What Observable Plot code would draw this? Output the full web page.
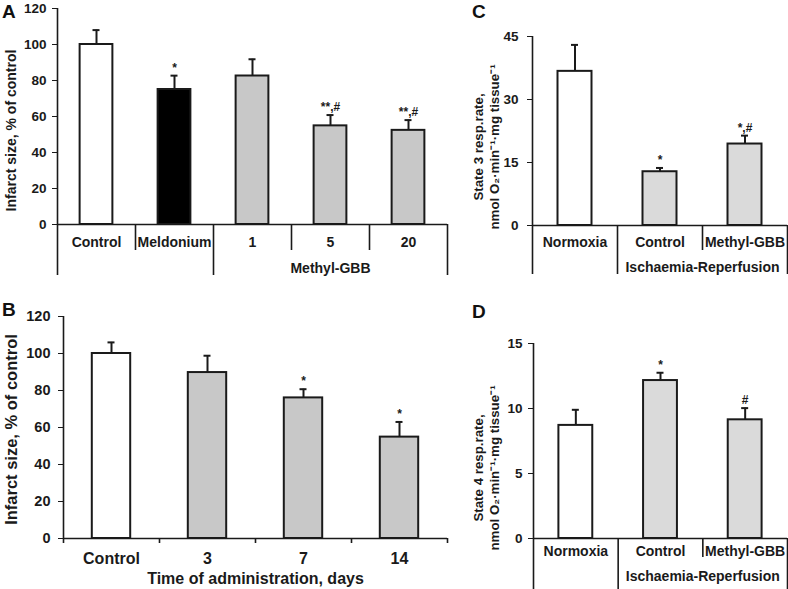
<!DOCTYPE html>
<html><head><meta charset="utf-8">
<script src="https://cdn.jsdelivr.net/npm/d3@7"></script>
<script src="https://cdn.jsdelivr.net/npm/@observablehq/plot@0.6"></script>
<style>
body{margin:0;background:#fff;}
#fig{position:relative;width:788px;height:589px;overflow:hidden;background:#fff;}
.letter{position:absolute;font:bold 19px "Liberation Sans",Arial,sans-serif;line-height:1;color:#111;}
</style></head><body><div id="fig"></div>
<script>
// ---------- Panel A ----------
const aCategories = ["Control", "Meldonium", "1", "5", "20"];
const aKinds = ["control", "meldonium", "treatment", "treatment", "treatment"];
const aValues = [100, 75, 82.5, 54.8, 52.3];
const aErrors = [8, 7.7, 9.3, 6, 5.7];
const aSig = ["", "*", "", "**,#", "**,#"];
const aGroups = [{label: "Methyl-GBB", from: 2, to: 5}];
const aYTicks = [0, 20, 40, 60, 80, 100, 120];
const aYLabel = "Infarct size, % of control";

// ---------- Panel B ----------
const bCategories = ["Control", "3", "7", "14"];
const bKinds = ["control", "treatment", "treatment", "treatment"];
const bValues = [100, 89.7, 76, 54.8];
const bErrors = [6, 9.1, 4.7, 8.2];
const bSig = ["", "", "*", "*"];
const bYTicks = [0, 20, 40, 60, 80, 100, 120];
const bYLabel = "Infarct size, % of control";
const bXLabel = "Time of administration, days";

// ---------- Panel C ----------
const cCategories = ["Normoxia", "Control", "Methyl-GBB"];
const cKinds = ["control", "treatment2", "treatment2"];
const cValues = [36.7, 12.8, 19.4];
const cErrors = [6.3, 0.9, 2.0];
const cSig = ["", "*", "*,#"];
const cGroups = [{label: "Ischaemia-Reperfusion", from: 1, to: 3}];
const cYTicks = [0, 15, 30, 45];
const cYLabel = "State 3 resp.rate,\nnmol O\u2082\u00b7min\u207b\u00b9\u00b7mg tissue\u207b\u00b9";

// ---------- Panel D ----------
const dCategories = ["Normoxia", "Control", "Methyl-GBB"];
const dKinds = ["control", "treatment2", "treatment2"];
const dValues = [8.7, 12.15, 9.13];
const dErrors = [1.2, 0.6, 0.9];
const dSig = ["", "*", "#"];
const dGroups = [{label: "Ischaemia-Reperfusion", from: 1, to: 3}];
const dYTicks = [0, 5, 10, 15];
const dYLabel = "State 4 resp.rate,\nnmol O\u2082\u00b7min\u207b\u00b9\u00b7mg tissue\u207b\u00b9";

// ---------- drawing ----------
const FONT = '"Liberation Sans", Arial, Helvetica, sans-serif';
const INK = "#1a1a1a";
const fillScale = {
  domain: ["control", "meldonium", "treatment", "treatment2"],
  range: ["#ffffff", "#000000", "#c8c8c8", "#dadada"]
};

function panel(o) {
  const n = o.categories.length;
  const rows = o.categories.map((c, i) => ({
    c, i, mid: i + 0.5, v: o.values[i], top: o.values[i] + o.errors[i],
    s: o.sig[i], k: o.kinds[i]
  }));
  const bounds = d3.range(n + 1);
  const groups = o.groups || [];
  const isLong = (b) => b === 0 || b === n || groups.some(g => g.from === b || g.to === b);
  const marks = [
    Plot.rectY(rows, {x1: d => d.mid - o.half, x2: d => d.mid + o.half, y1: 0, y2: "v",
      fill: "k", stroke: INK, strokeWidth: 2}),
    Plot.ruleX(rows, {x: "mid", y1: "v", y2: "top", stroke: INK, strokeWidth: 2}),
    Plot.ruleY(rows, {y: "top", x1: "mid", x2: "mid", insetLeft: -3.5, insetRight: -3.5, stroke: INK, strokeWidth: 2}),
    Plot.text(rows, {x: "mid", y: "top", text: "s", dy: o.sigDy, lineAnchor: "bottom",
      fontSize: 12, fontWeight: "bold", fill: INK}),
    Plot.ruleY([0], {stroke: INK, strokeWidth: 1.6}),
    Plot.ruleX([0], {stroke: INK, strokeWidth: 1.6}),
    Plot.text(rows, {x: "mid", y: 0, text: "c", dy: o.labelDy, fontSize: o.labelSize, fontWeight: "bold", fill: INK}),
    Plot.text([o.yLabel], {frameAnchor: "left", textAnchor: "middle", lineAnchor: "middle",
      rotate: -90, dx: o.yLabelDx, dy: o.yLabelDy,
      fontSize: o.yLabelSize, fontWeight: "bold", lineHeight: 1.15, fill: INK})
  ];
  if (o.separators) {
    marks.push(Plot.ruleX(bounds.filter(b => !isLong(b)), {x: d => d, y1: 0, y2: 0, insetBottom: -o.shortLen, stroke: INK, strokeWidth: 1.6}));
    marks.push(Plot.ruleX(bounds.filter(isLong), {x: d => d, y1: 0, y2: 0, insetBottom: -o.longLen, stroke: INK, strokeWidth: 1.6}));
    marks.push(Plot.text(groups, {x: d => (d.from + d.to) / 2, y: 0, text: "label", dy: o.groupDy,
      fontSize: o.labelSize, fontWeight: "bold", fill: INK}));
  } else {
    marks.push(Plot.ruleX(bounds, {x: d => d, y1: 0, y2: 0, insetBottom: -5, stroke: INK, strokeWidth: 1.6}));
    marks.push(Plot.text([o.xLabel], {x: n / 2, y: 0, dy: o.groupDy, fontSize: o.labelSize, fontWeight: "bold", fill: INK}));
  }
  const svg = Plot.plot({
    width: o.width, height: o.height,
    marginTop: o.mt, marginLeft: o.ml, marginRight: o.mr, marginBottom: o.mb,
    x: {domain: [0, n], axis: null},
    y: {domain: [0, o.yTicks[o.yTicks.length - 1]], ticks: o.yTicks, tickSize: 5,
        tickPadding: o.tickPadding, label: null, tickFormat: d => String(d)},
    color: fillScale,
    style: {fontFamily: FONT, fontSize: o.tickSize + "px", fontWeight: "bold", color: INK,
            background: "transparent", overflow: "visible"},
    marks
  });
  svg.style.position = "absolute";
  svg.style.left = o.left + "px";
  svg.style.top = o.top + "px";
  return svg;
}

const fig = document.getElementById("fig");
fig.appendChild(panel({
  categories: aCategories, kinds: aKinds, values: aValues, errors: aErrors, sig: aSig,
  groups: aGroups, yTicks: aYTicks, yLabel: aYLabel, separators: true,
  left: 0, top: 0, width: 460, height: 285, mt: 8, ml: 57, mr: 13, mb: 61,
  half: 0.21, tickSize: 13.5, tickPadding: 6, labelSize: 14, labelDy: 18, groupDy: 44,
  shortLen: 26, longLen: 51, yLabelSize: 14, yLabelDx: -47, yLabelDy: 14, sigDy: -4
}));
fig.appendChild(panel({
  categories: bCategories, kinds: bKinds, values: bValues, errors: bErrors, sig: bSig,
  yTicks: bYTicks, yLabel: bYLabel, xLabel: bXLabel, separators: false,
  left: 0, top: 290, width: 460, height: 299, mt: 26, ml: 63, mr: 13, mb: 51,
  half: 0.2, tickSize: 14.5, tickPadding: 8, labelSize: 16, labelDy: 20, groupDy: 40,
  yLabelSize: 16.5, yLabelDx: -53, yLabelDy: 2, sigDy: -4
}));
fig.appendChild(panel({
  categories: cCategories, kinds: cKinds, values: cValues, errors: cErrors, sig: cSig,
  groups: cGroups, yTicks: cYTicks, yLabel: cYLabel, separators: true,
  left: 460, top: 0, width: 328, height: 285, mt: 36, ml: 72, mr: 1, mb: 60,
  half: 0.2, tickSize: 13.5, tickPadding: 9, labelSize: 14, labelDy: 17, groupDy: 42,
  shortLen: 25, longLen: 49, yLabelSize: 13.3, yLabelDx: -46.5, yLabelDy: 16, sigDy: -4
}));
fig.appendChild(panel({
  categories: dCategories, kinds: dKinds, values: dValues, errors: dErrors, sig: dSig,
  groups: dGroups, yTicks: dYTicks, yLabel: dYLabel, separators: true,
  left: 460, top: 290, width: 328, height: 299, mt: 53, ml: 73, mr: 1, mb: 51,
  half: 0.2, tickSize: 13.5, tickPadding: 6, labelSize: 14, labelDy: 13, groupDy: 38,
  shortLen: 19, longLen: 51, yLabelSize: 13.3, yLabelDx: -47.5, yLabelDy: 27, sigDy: -4
}));

// panel letters
[["A", 2, 2], ["B", 2, 300], ["C", 472, 2], ["D", 472, 302]].forEach(([t, x, y]) => {
  const d = document.createElement("div");
  d.className = "letter";
  d.textContent = t;
  d.style.left = x + "px";
  d.style.top = y + "px";
  fig.appendChild(d);
});
</script>
</body></html>
